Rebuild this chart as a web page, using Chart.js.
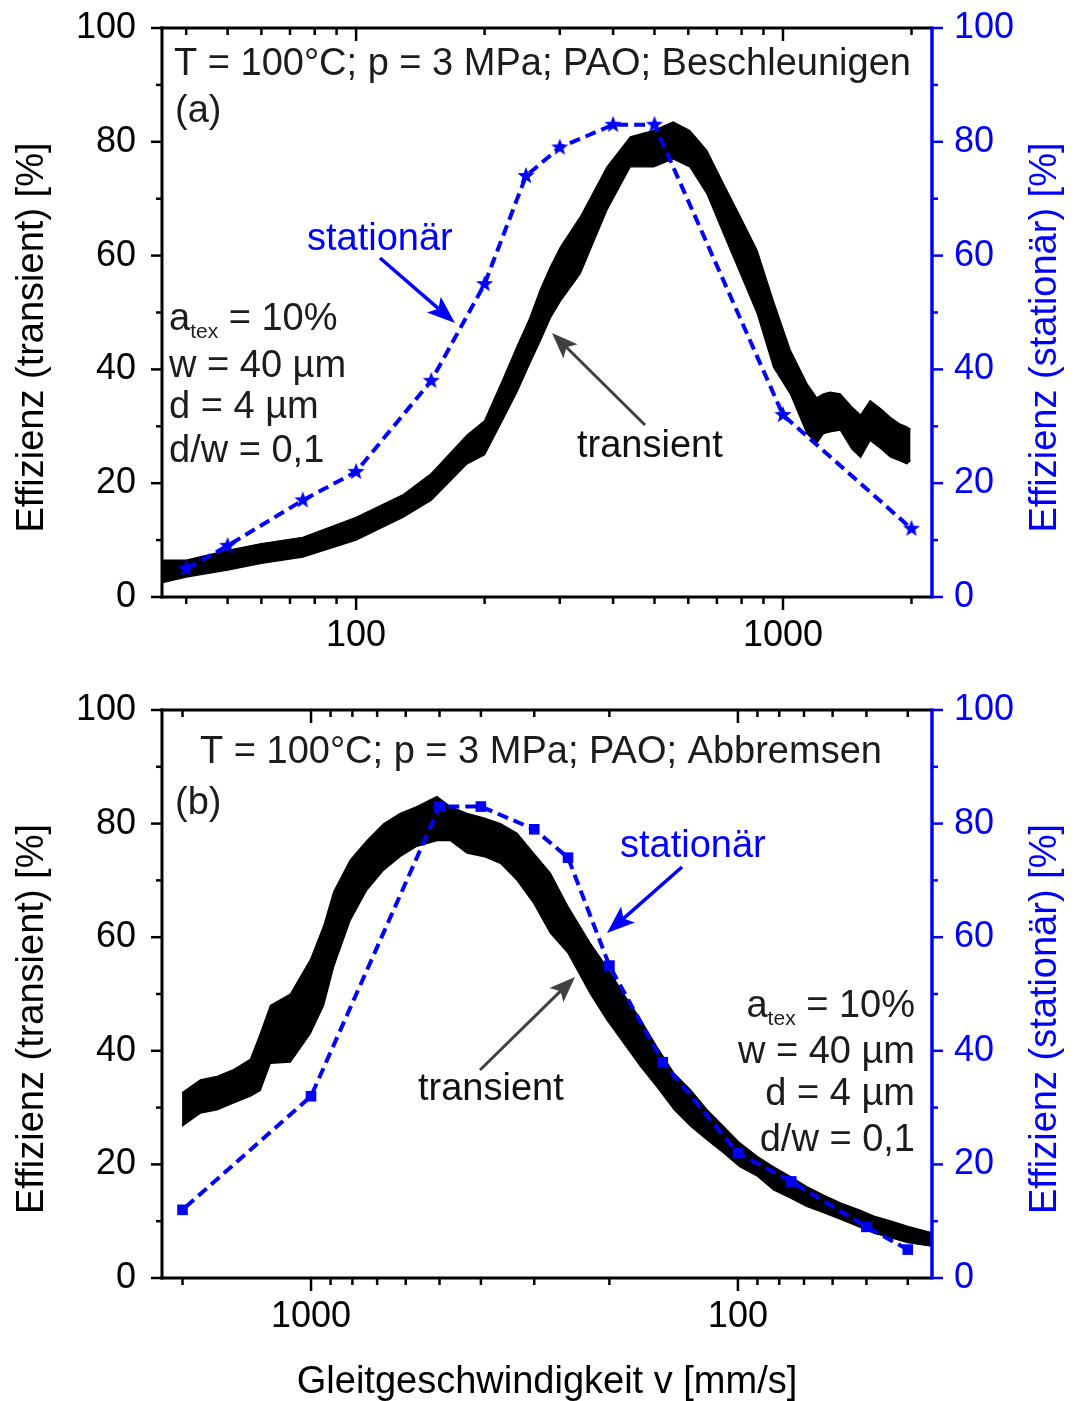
<!DOCTYPE html>
<html>
<head>
<meta charset="utf-8">
<script src="https://cdn.jsdelivr.net/npm/chart.js@4.4.1/dist/chart.umd.min.js"></script>
<style>
  html, body { margin: 0; padding: 0; background: #fff; }
  #wrap { position: relative; width: 1076px; height: 1401px; overflow: hidden; background: #fff; }
  canvas { position: absolute; left: 0; }
  #c1 { top: 0; }
  #c2 { top: 680px; }
</style>
</head>
<body>
<div id="wrap">
  <canvas id="c1" width="1076" height="660"></canvas>
  <canvas id="c2" width="1076" height="721"></canvas>
</div>
<script>
// ---- data -------------------------------------------------------------
// stationary measurements: sliding speed [mm/s] and efficiency [%]
const vStat = [40, 50, 75, 100, 150, 200, 250, 300, 400, 500, 1000, 2000];
const effStatAccel = [5, 9, 17, 22, 38, 55, 74, 79, 83, 83, 32, 12];
const effStatDecel = [5, 9, 17, 22, 38, 55, 74, 79, 83, 83, 32, 12];

// transient run while accelerating: upper / lower edge of the noisy trace
const vTransAccel = [35.2, 40, 50, 60, 75, 100, 129, 150, 182, 200, 220, 238, 255, 270, 285, 301, 335, 387, 439, 498, 553, 605, 663, 726, 795, 870, 950, 1040, 1138, 1200, 1244, 1290, 1362, 1450, 1520, 1600, 1700, 1783, 1870, 1950, 1990];
const effTransAccelHi = [6.5, 6.5, 8.2, 9.4, 10.5, 14, 18, 21.7, 28.5, 31, 38, 44, 49, 54, 58, 61.5, 66.8, 75.6, 80.9, 82, 83.5, 82, 78.5, 72.6, 66.8, 60.9, 52, 43.4, 37.5, 35, 35.7, 36, 35.7, 33.4, 32, 34.5, 33, 31.6, 30.5, 29.9, 29.5];
const effTransAccelLo = [2.5, 3.5, 4.7, 5.9, 7, 10, 14, 17, 23.4, 25, 31, 36, 41, 45, 49, 52, 56.8, 68, 75.6, 75.6, 77, 75.6, 70.9, 63.8, 56.8, 49.8, 40.4, 35.7, 28.7, 27, 28.7, 29, 29.3, 26, 24.5, 27.5, 26, 24.6, 24, 23.4, 24];

// transient run while decelerating: upper / lower edge of the noisy trace
const vTransDecel = [2005, 1817, 1660, 1518, 1387, 1315, 1245, 1118, 1004, 934, 885, 809, 740, 676, 618, 565, 507, 472, 431, 394, 360, 329, 301, 275, 250, 222, 203, 185, 169, 155, 141, 129, 118, 108, 99, 90, 82.5, 75, 69, 63, 57.4, 52, 48, 43.5, 40, 35.2];
const effTransDecelHi = [32.6, 34.9, 35.5, 36.7, 38.5, 43, 48, 50, 56, 62, 68, 73.6, 77, 80, 81.8, 83, 84.8, 83, 81.8, 81, 80, 78.3, 74.8, 71.3, 65.4, 59, 54.8, 50, 45.5, 40.8, 36, 33.1, 29.6, 26.7, 23.8, 21.4, 19.6, 17.8, 16.1, 14.6, 13.2, 12, 10.9, 10, 9.1, 8];
const effTransDecelLo = [26.7, 29, 29.6, 30.8, 32, 33, 37.8, 38, 43, 48, 54.8, 63, 68.3, 71.8, 74.2, 76, 77, 77, 74.8, 74.2, 73, 70, 66, 60.7, 57.2, 50.1, 45.5, 41.3, 37.2, 33.7, 29.6, 26.7, 24.3, 22, 19.6, 17.9, 15.5, 14, 12.6, 11.5, 10.3, 9, 7.9, 7, 6.2, 5.6];

// axis ticks
const xTickVals = [40, 50, 60, 70, 80, 90, 100, 200, 300, 400, 500, 600, 700, 800, 900, 1000, 2000];
const xTickLabels = { 100: '100', 1000: '1000' };
const xMajorVals = [100, 1000];
const yTickVals = [0, 20, 40, 60, 80, 100];
const yMinorVals = [10, 30, 50, 70, 90];

// ---- styling ------------------------------------------------------------
const FONT = "'Liberation Sans', Arial, Helvetica, sans-serif";
const BLUE = '#0000ff';
const INK = '#1c1c1c';
const ARROW_GREY = '#404040';
const X_MIN = 35.1, X_MAX = 2234;

Chart.defaults.font.family = FONT;

function starImage(r, color) {
  const s = Math.ceil(2 * r + 2);
  const c = document.createElement('canvas');
  c.width = s; c.height = s;
  const g = c.getContext('2d');
  g.fillStyle = color;
  g.beginPath();
  for (let i = 0; i < 10; i++) {
    const ang = -Math.PI / 2 + i * Math.PI / 5;
    const rr = (i % 2) ? r * 0.42 : r;
    g.lineTo(s / 2 + rr * Math.cos(ang), s / 2 + rr * Math.sin(ang));
  }
  g.closePath();
  g.fill();
  return c;
}

function pts(xs, ys) { return xs.map((v, i) => ({ x: v, y: ys[i] })); }

function line(ctx, x0, y0, x1, y1) {
  ctx.beginPath(); ctx.moveTo(x0, y0); ctx.lineTo(x1, y1); ctx.stroke();
}

function arrow(ctx, x0, y0, x1, y1, color, lw, headLen, headW) {
  const ang = Math.atan2(y1 - y0, x1 - x0);
  const c = Math.cos(ang), s = Math.sin(ang);
  const bx = x1 - headLen * c, by = y1 - headLen * s;
  const nx = x1 - headLen * 0.78 * c, ny = y1 - headLen * 0.78 * s;
  ctx.strokeStyle = color; ctx.fillStyle = color; ctx.lineWidth = lw;
  line(ctx, x0, y0, nx, ny);
  ctx.beginPath();
  ctx.moveTo(x1, y1);
  ctx.lineTo(bx + headW / 2 * s, by - headW / 2 * c);
  ctx.lineTo(nx, ny);
  ctx.lineTo(bx - headW / 2 * s, by + headW / 2 * c);
  ctx.closePath();
  ctx.fill();
}

function drawAtex(ctx, x, y, alignRight) {
  const parts = [['a', 38, 0], ['tex', 21, 8], [' = 10%', 38, 0]];
  let total = 0;
  parts.forEach(p => { ctx.font = p[1] + 'px ' + FONT; p.push(ctx.measureText(p[0]).width); total += p[3]; });
  let cx = alignRight ? x - total : x;
  ctx.textAlign = 'left';
  parts.forEach(p => { ctx.font = p[1] + 'px ' + FONT; ctx.fillText(p[0], cx, y + p[2]); cx += p[3]; });
}

// keep tick-label padding from shrinking the plot area
function noScalePadding(s) {
  s.paddingTop = 0; s.paddingBottom = 0; s.paddingLeft = 0; s.paddingRight = 0;
}

// axes, tick marks, labels and annotations of one panel
function decorPlugin(cfg) {
  return {
    id: 'decor',
    afterDraw(chart) {
      const { ctx, chartArea: a, scales } = chart;
      const x = scales.x, y = scales.y;
      ctx.save();
      ctx.lineCap = 'butt';

      // black frame parts: left axis, bottom axis, top border
      ctx.strokeStyle = '#000'; ctx.lineWidth = 3;
      line(ctx, a.left, a.top - 1.5, a.left, a.bottom + 1.5);
      line(ctx, a.left - 1.5, a.bottom, a.right, a.bottom);
      line(ctx, a.left - 1.5, a.top, a.right, a.top);

      // left y ticks (outward)
      ctx.lineWidth = 2.5;
      yTickVals.concat(yMinorVals).forEach(v => {
        const py = y.getPixelForValue(v);
        const len = yTickVals.includes(v) ? 11 : 6;
        line(ctx, a.left, py, a.left - len, py);
      });
      // x ticks: outward on the axis, inward on the top border
      xTickVals.forEach(v => {
        const px = x.getPixelForValue(v);
        const len = xMajorVals.includes(v) ? 13 : 7;
        line(ctx, px, a.bottom, px, a.bottom + len);
        line(ctx, px, a.top, px, a.top + len);
      });

      // blue right axis
      ctx.strokeStyle = BLUE; ctx.lineWidth = 3.5;
      line(ctx, a.right, a.top - 1.5, a.right, a.bottom + 1.5);
      ctx.lineWidth = 2.5;
      yTickVals.concat(yMinorVals).forEach(v => {
        const py = scales.y2.getPixelForValue(v);
        const len = yTickVals.includes(v) ? 11 : 6;
        line(ctx, a.right, py, a.right + len, py);
      });

      // axis titles
      const midY = (a.top + a.bottom) / 2 + 25;
      ctx.font = '38px ' + FONT;
      ctx.textAlign = 'center'; ctx.textBaseline = 'middle';
      ctx.save(); ctx.translate(33, midY); ctx.rotate(-Math.PI / 2);
      ctx.fillStyle = '#000'; ctx.fillText('Effizienz (transient) [%]', 0, 0); ctx.restore();
      ctx.save(); ctx.translate(1046, midY); ctx.rotate(-Math.PI / 2);
      ctx.fillStyle = BLUE; ctx.fillText('Effizienz (station\u00e4r) [%]', 0, 0); ctx.restore();
      if (cfg.xTitle) {
        ctx.fillStyle = '#000'; ctx.textBaseline = 'alphabetic';
        ctx.fillText(cfg.xTitle, (a.left + a.right) / 2, cfg.xTitleY);
      }

      // annotation texts
      ctx.textBaseline = 'alphabetic';
      cfg.texts.forEach(t => {
        ctx.font = '38px ' + FONT;
        ctx.fillStyle = t.color || INK;
        ctx.textAlign = t.align || 'left';
        ctx.fillText(t.text, a.left + t.dx, a.top + t.dy);
      });
      ctx.fillStyle = INK;
      drawAtex(ctx, a.left + cfg.block.dx, a.top + cfg.block.dy[0], cfg.block.right);
      ctx.font = '38px ' + FONT;
      ctx.textAlign = cfg.block.right ? 'right' : 'left';
      ['w = 40 \u00b5m', 'd = 4 \u00b5m', 'd/w = 0,1'].forEach((s, i) => {
        ctx.fillText(s, a.left + cfg.block.dx, a.top + cfg.block.dy[i + 1]);
      });

      // arrows
      cfg.arrows.forEach(r => {
        arrow(ctx, a.left + r.from[0], a.top + r.from[1], a.left + r.to[0], a.top + r.to[1],
              r.color, r.lw, r.head[0], r.head[1]);
      });
      ctx.restore();
    }
  };
}

function buildChart(id, cfg) {
  return new Chart(document.getElementById(id), {
    type: 'line',
    data: {
      datasets: [
        {
          label: 'station\u00e4r',
          data: pts(vStat, cfg.stat),
          yAxisID: 'y2',
          borderColor: BLUE,
          borderWidth: 4,
          borderDash: [11, 6],
          pointStyle: cfg.marker,
          pointRadius: cfg.markerRadius,
          pointBackgroundColor: BLUE,
          pointBorderColor: BLUE,
          pointBorderWidth: 0,
          fill: false,
          tension: 0
        },
        {
          label: 'transient (max)',
          data: pts(cfg.tv, cfg.hi),
          yAxisID: 'y',
          borderColor: '#000',
          backgroundColor: '#000',
          borderWidth: 1.2,
          pointRadius: 0,
          fill: '+1',
          tension: 0
        },
        {
          label: 'transient (min)',
          data: pts(cfg.tv, cfg.lo),
          yAxisID: 'y',
          borderColor: '#000',
          borderWidth: 1.2,
          pointRadius: 0,
          fill: false,
          tension: 0
        }
      ]
    },
    options: {
      responsive: false,
      animation: false,
      events: [],
      layout: { padding: { top: cfg.padTop, left: 0, right: 0, bottom: 0 } },
      plugins: { legend: { display: false }, tooltip: { enabled: false } },
      scales: {
        x: {
          type: 'logarithmic',
          position: 'bottom',
          min: X_MIN, max: X_MAX,
          reverse: cfg.reverse,
          afterBuildTicks: s => { s.ticks = xTickVals.map(v => ({ value: v })); },
          afterFit: s => { s.height = cfg.xHeight; noScalePadding(s); },
          grid: { display: false },
          border: { display: false },
          ticks: {
            autoSkip: false, maxRotation: 0, minRotation: 0, padding: 9,
            color: '#000', font: { size: 36 },
            callback: v => xTickLabels[v] || ''
          }
        },
        y: {
          position: 'left',
          min: 0, max: 100,
          afterBuildTicks: s => { s.ticks = yTickVals.map(v => ({ value: v })); },
          afterFit: s => { s.width = 162; noScalePadding(s); },
          grid: { display: false },
          border: { display: false },
          ticks: { padding: 18, color: '#000', font: { size: 36 } }
        },
        y2: {
          position: 'right',
          min: 0, max: 100,
          afterBuildTicks: s => { s.ticks = yTickVals.map(v => ({ value: v })); },
          afterFit: s => { s.width = 144; noScalePadding(s); },
          grid: { display: false },
          border: { display: false },
          ticks: { padding: 14, color: BLUE, font: { size: 36 } }
        }
      }
    },
    plugins: [decorPlugin(cfg)]
  });
}

// (a) accelerating
buildChart('c1', {
  reverse: false, padTop: 28, xHeight: 63,
  stat: effStatAccel, tv: vTransAccel, hi: effTransAccelHi, lo: effTransAccelLo,
  marker: starImage(9, BLUE), markerRadius: 8,
  texts: [
    { text: 'T = 100\u00b0C; p = 3 MPa; PAO; Beschleunigen', dx: 12, dy: 47 },
    { text: '(a)', dx: 13, dy: 94 },
    { text: 'station\u00e4r', dx: 145, dy: 222, color: BLUE },
    { text: 'transient', dx: 415, dy: 429, color: '#111' }
  ],
  block: { dx: 7, dy: [302, 348.7, 390, 433.7], right: false },
  arrows: [
    { from: [218, 230], to: [293, 295], color: BLUE, lw: 3.5, head: [28, 21] },
    { from: [483, 397], to: [390, 305], color: ARROW_GREY, lw: 3, head: [26, 20] }
  ]
});

// (b) decelerating
buildChart('c2', {
  reverse: true, padTop: 30, xHeight: 123,
  stat: effStatDecel, tv: vTransDecel, hi: effTransDecelHi, lo: effTransDecelLo,
  marker: 'rect', markerRadius: 7.5,
  xTitle: 'Gleitgeschwindigkeit v [mm/s]', xTitleY: 713,
  texts: [
    { text: 'T = 100\u00b0C; p = 3 MPa; PAO; Abbremsen', dx: 38, dy: 53 },
    { text: '(b)', dx: 13, dy: 104 },
    { text: 'station\u00e4r', dx: 458, dy: 147, color: BLUE },
    { text: 'transient', dx: 256, dy: 390, color: '#111' }
  ],
  block: { dx: 753, dy: [307.3, 353.3, 395, 440.7], right: true },
  arrows: [
    { from: [520, 157], to: [445, 223], color: BLUE, lw: 3.5, head: [28, 21] },
    { from: [318, 360], to: [413, 267], color: ARROW_GREY, lw: 3, head: [26, 20] }
  ]
});
</script>
</body>
</html>
